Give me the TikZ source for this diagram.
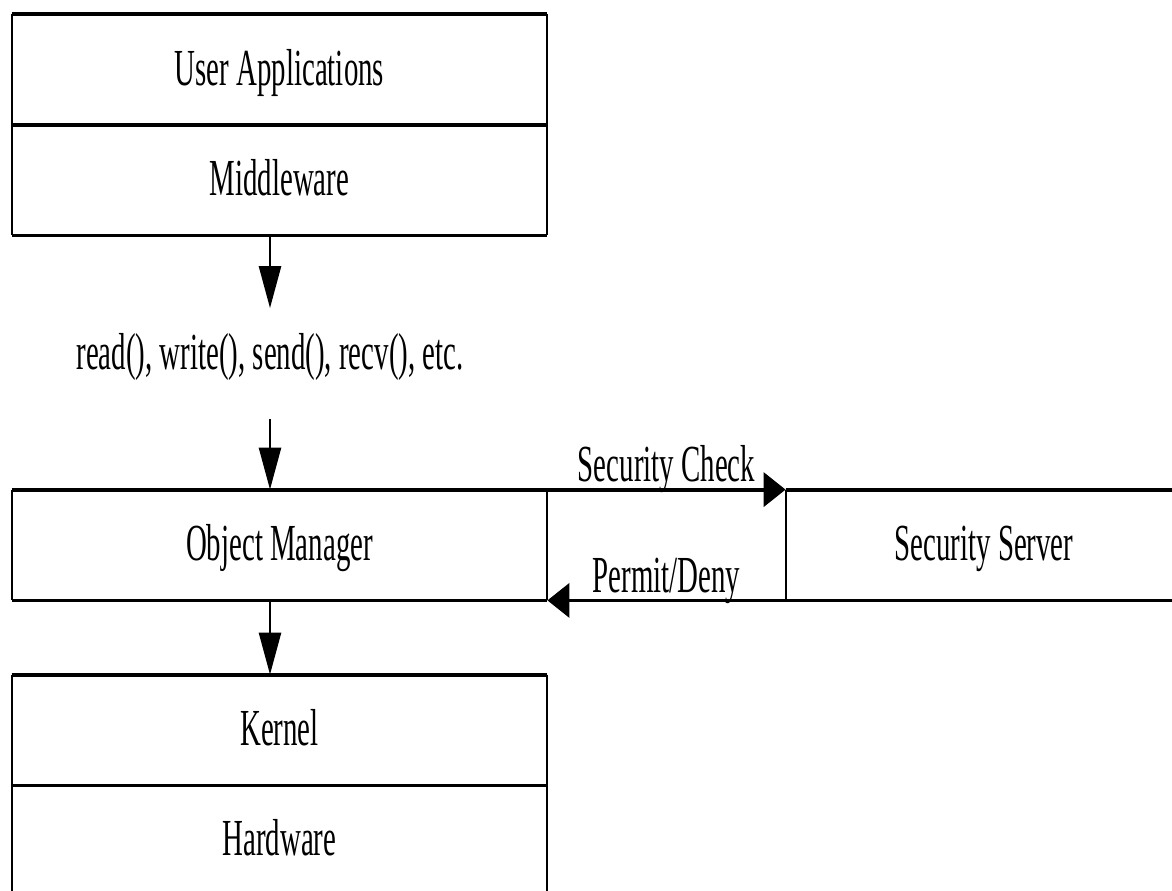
\documentclass[tikz,border=0pt]{standalone}
\usepackage{fontspec}
\setmainfont{Liberation Serif}[FakeStretch=0.555]
\usetikzlibrary{arrows.meta}
\begin{document}
\begin{tikzpicture}[x=0.5pt,y=-0.5pt,
  txt/.style={font=\fontsize{26pt}{30pt}\selectfont, inner sep=0pt},
  cell/.style={txt, text height=18.5pt, text depth=3pt, minimum height=55pt},
  narrowcell/.style={cell, minimum width=267.5pt},
  hline/.style={line width=1.9pt},
  vline/.style={line width=1pt},
  varrow/.style={line width=1.3pt, -{Triangle[length=21pt,width=11pt]}},
  harrow/.style={line width=1.9pt, -{Triangle[length=11pt,width=17pt]}},
  flowlbl/.style={txt, anchor=base, yshift=4pt}]
  \useasboundingbox (0,0) rectangle (1172,890);
  \clip (0,0) rectangle (1172,890);

  % upper stack
  \node[narrowcell] (ua) at (279.5,69.5) {User Applications};
  \node[narrowcell] (mw) at (279.5,180) {Middleware};
  % call interface
  \node[txt, text height=18.5pt, text depth=4pt] (calls) at (270,355) {read(), write(), send(), recv(), etc.};
  % object manager and security server
  \node[narrowcell] (om) at (279.5,545) {Object Manager};
  \node[cell, minimum width=198pt] (ss) at (984,545) {Security Server};
  % lower stack
  \node[narrowcell] (kn) at (279.5,730) {Kernel};
  \node[narrowcell] (hw) at (279.5,840) {Hardware};

  % borders of the upper stack
  \draw[hline] (ua.north west) -- (ua.north east);
  \draw[hline] (ua.south west) -- (ua.south east);
  \draw[hline] (mw.south west) -- (mw.south east);
  \draw[vline] (ua.north west) -- (mw.south west);
  \draw[vline] (ua.north east) -- (mw.south east);

  % borders of the object manager
  \draw[hline] (om.north west) -- (om.north east);
  \draw[hline] (om.south west) -- (om.south east);
  \draw[vline] (om.north west) -- (om.south west);
  \draw[vline] (om.north east) -- (om.south east);

  % borders of the security server
  \draw[hline] (ss.north west) -- (ss.north east);
  \draw[hline] (ss.south west) -- (ss.south east);
  \draw[vline] (ss.north west) -- (ss.south west);

  % borders of the lower stack
  \draw[hline] (kn.north west) -- (kn.north east);
  \draw[hline] (kn.south west) -- (kn.south east);
  \draw[vline] (kn.north west) -- (hw.south west);
  \draw[vline] (kn.north east) -- (hw.south east);

  % exchanges with the security server
  \draw[harrow] (om.north east) -- (ss.north west)
    node[flowlbl, midway] {Security Check};
  \draw[harrow] (ss.south west) -- (om.south east)
    node[flowlbl, midway] {Permit/Deny};

  % downward flow
  \draw[varrow, shorten >=12pt] (mw.south -| calls) -- (calls.north);
  \draw[varrow, shorten <=20.5pt] (calls.south) -- (om.north -| calls);
  \draw[varrow] (om.south -| calls) -- (kn.north -| calls);
\end{tikzpicture}
\end{document}
